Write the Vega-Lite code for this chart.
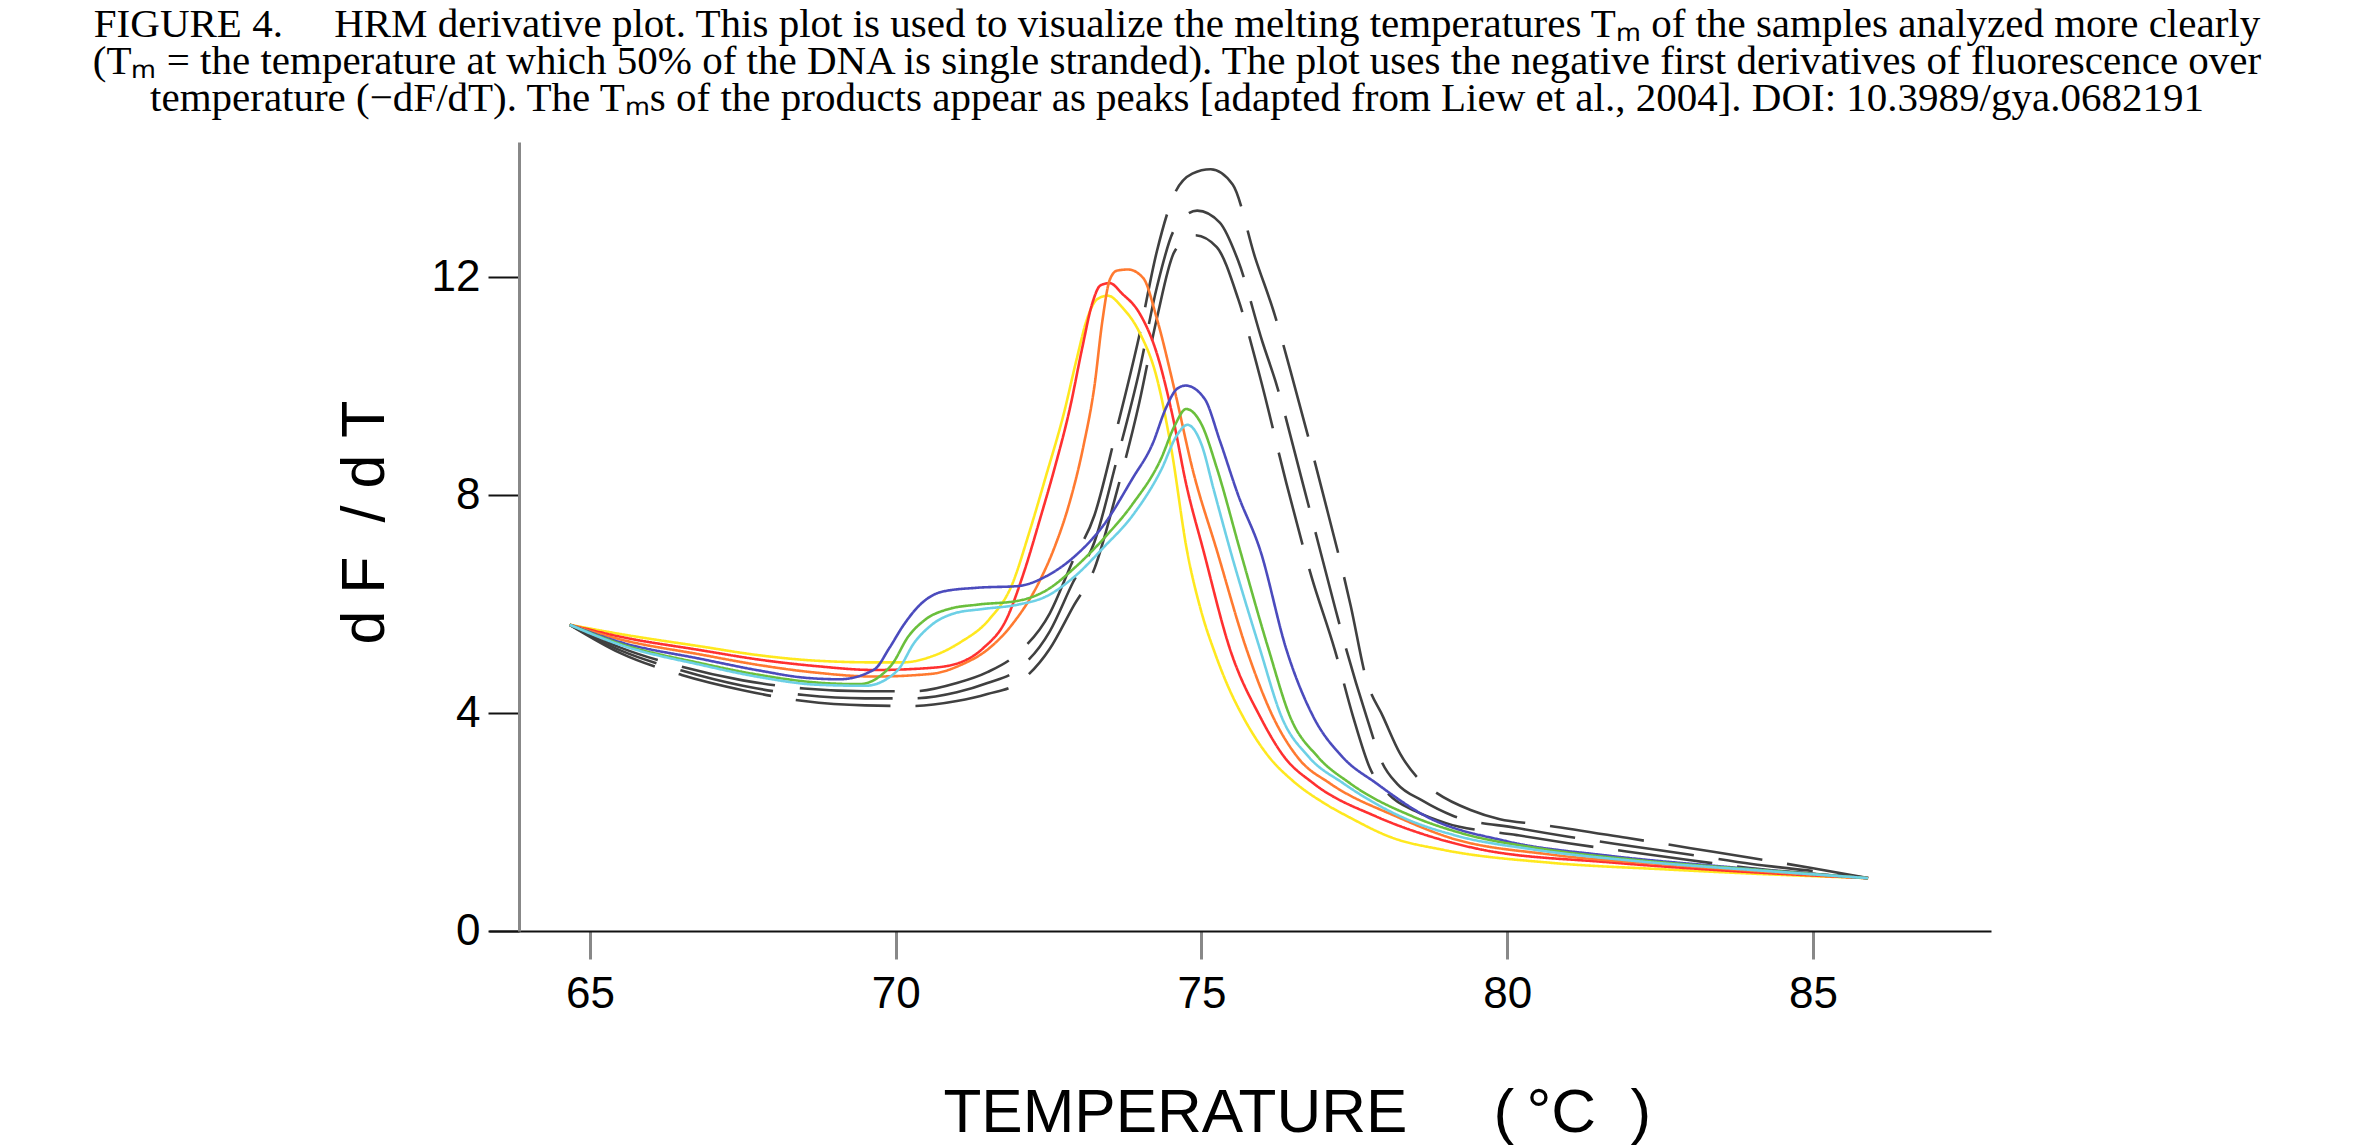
{
  "$schema": "https://vega.github.io/schema/vega-lite/v6.json",
  "autosize": {"type": "none"},
  "width": 1502,
  "height": 789,
  "padding": {"left": 489, "top": 142, "right": 366, "bottom": 215},
  "background": "#ffffff",
  "title": {
    "text": [
      "FIGURE 4.\u2003\u00a0HRM derivative plot. This plot is used to visualize the melting temperatures T\u2098 of the samples analyzed more clearly",
      "(T\u2098 = the temperature at which 50% of the DNA is single stranded). The plot uses the negative first derivatives of fluorescence over",
      "temperature (\u2212dF/dT). The T\u2098s of the products appear as peaks [adapted from Liew et al., 2004]. DOI: 10.3989/gya.0682191"
    ],
    "font": "Liberation Serif",
    "fontSize": 41,
    "fontWeight": "normal",
    "color": "#000000",
    "lineHeight": 37,
    "anchor": "middle",
    "frame": "group",
    "dx": -63,
    "offset": 22
  },
  "data": {
    "values": [
      {"s": "K1", "t": 64.67, "v": 5.62}, {"s": "K1", "t": 65.5, "v": 5.2}, {"s": "K1", "t": 66.5, "v": 4.85},
      {"s": "K1", "t": 67.5, "v": 4.6}, {"s": "K1", "t": 68.5, "v": 4.45}, {"s": "K1", "t": 69.5, "v": 4.4},
      {"s": "K1", "t": 70.3, "v": 4.4}, {"s": "K1", "t": 71.0, "v": 4.55}, {"s": "K1", "t": 71.5, "v": 4.75},
      {"s": "K1", "t": 72.0, "v": 5.1}, {"s": "K1", "t": 72.52, "v": 5.83}, {"s": "K1", "t": 72.9, "v": 6.8},
      {"s": "K1", "t": 73.25, "v": 7.63}, {"s": "K1", "t": 73.61, "v": 9.19}, {"s": "K1", "t": 73.98, "v": 10.91},
      {"s": "K1", "t": 74.27, "v": 12.47}, {"s": "K1", "t": 74.56, "v": 13.53}, {"s": "K1", "t": 74.85, "v": 13.9},
      {"s": "K1", "t": 75.15, "v": 13.98}, {"s": "K1", "t": 75.51, "v": 13.7}, {"s": "K1", "t": 75.88, "v": 12.35},
      {"s": "K1", "t": 76.2, "v": 11.3}, {"s": "K1", "t": 76.46, "v": 10.26}, {"s": "K1", "t": 76.97, "v": 8.1},
      {"s": "K1", "t": 77.44, "v": 5.97}, {"s": "K1", "t": 77.7, "v": 4.6}, {"s": "K1", "t": 77.97, "v": 3.93},
      {"s": "K1", "t": 78.25, "v": 3.25}, {"s": "K1", "t": 78.52, "v": 2.83}, {"s": "K1", "t": 78.85, "v": 2.53},
      {"s": "K1", "t": 79.4, "v": 2.22}, {"s": "K1", "t": 79.88, "v": 2.05}, {"s": "K1", "t": 80.5, "v": 1.96},
      {"s": "K1", "t": 81.95, "v": 1.71}, {"s": "K1", "t": 83.0, "v": 1.52}, {"s": "K1", "t": 84.0, "v": 1.34},
      {"s": "K1", "t": 85.0, "v": 1.15}, {"s": "K1", "t": 85.9, "v": 0.97},

      {"s": "K2", "t": 64.67, "v": 5.62}, {"s": "K2", "t": 65.5, "v": 5.15}, {"s": "K2", "t": 66.5, "v": 4.78},
      {"s": "K2", "t": 67.5, "v": 4.5}, {"s": "K2", "t": 68.5, "v": 4.33}, {"s": "K2", "t": 69.5, "v": 4.27},
      {"s": "K2", "t": 70.3, "v": 4.27}, {"s": "K2", "t": 71.0, "v": 4.38}, {"s": "K2", "t": 71.5, "v": 4.55},
      {"s": "K2", "t": 72.0, "v": 4.8}, {"s": "K2", "t": 72.52, "v": 5.5}, {"s": "K2", "t": 72.9, "v": 6.4},
      {"s": "K2", "t": 73.25, "v": 7.14}, {"s": "K2", "t": 73.61, "v": 8.62}, {"s": "K2", "t": 73.98, "v": 10.26},
      {"s": "K2", "t": 74.27, "v": 11.81}, {"s": "K2", "t": 74.56, "v": 12.88}, {"s": "K2", "t": 74.93, "v": 13.22},
      {"s": "K2", "t": 75.3, "v": 13.0}, {"s": "K2", "t": 75.6, "v": 12.3}, {"s": "K2", "t": 76.0, "v": 10.8},
      {"s": "K2", "t": 76.21, "v": 10.09}, {"s": "K2", "t": 76.66, "v": 8.2}, {"s": "K2", "t": 77.19, "v": 5.91},
      {"s": "K2", "t": 77.37, "v": 5.16}, {"s": "K2", "t": 77.7, "v": 3.93}, {"s": "K2", "t": 77.95, "v": 3.1},
      {"s": "K2", "t": 78.2, "v": 2.7}, {"s": "K2", "t": 78.6, "v": 2.4}, {"s": "K2", "t": 79.1, "v": 2.12},
      {"s": "K2", "t": 80.16, "v": 1.89}, {"s": "K2", "t": 81.0, "v": 1.73}, {"s": "K2", "t": 81.95, "v": 1.57},
      {"s": "K2", "t": 83.0, "v": 1.4}, {"s": "K2", "t": 84.0, "v": 1.23}, {"s": "K2", "t": 85.0, "v": 1.1},
      {"s": "K2", "t": 85.9, "v": 0.97},

      {"s": "K3", "t": 64.67, "v": 5.62}, {"s": "K3", "t": 65.5, "v": 5.1}, {"s": "K3", "t": 66.5, "v": 4.7},
      {"s": "K3", "t": 67.5, "v": 4.42}, {"s": "K3", "t": 68.5, "v": 4.22}, {"s": "K3", "t": 69.5, "v": 4.14},
      {"s": "K3", "t": 70.3, "v": 4.13}, {"s": "K3", "t": 71.0, "v": 4.22}, {"s": "K3", "t": 71.5, "v": 4.35},
      {"s": "K3", "t": 72.0, "v": 4.55}, {"s": "K3", "t": 72.52, "v": 5.18}, {"s": "K3", "t": 72.9, "v": 5.95},
      {"s": "K3", "t": 73.25, "v": 6.65}, {"s": "K3", "t": 73.61, "v": 8.04}, {"s": "K3", "t": 73.98, "v": 9.68},
      {"s": "K3", "t": 74.27, "v": 11.24}, {"s": "K3", "t": 74.56, "v": 12.47}, {"s": "K3", "t": 74.89, "v": 12.77},
      {"s": "K3", "t": 75.25, "v": 12.55}, {"s": "K3", "t": 75.6, "v": 11.6}, {"s": "K3", "t": 75.95, "v": 10.2},
      {"s": "K3", "t": 76.39, "v": 8.21}, {"s": "K3", "t": 76.8, "v": 6.5}, {"s": "K3", "t": 77.18, "v": 5.16},
      {"s": "K3", "t": 77.48, "v": 3.93}, {"s": "K3", "t": 77.75, "v": 3.0}, {"s": "K3", "t": 78.07, "v": 2.5},
      {"s": "K3", "t": 78.5, "v": 2.2}, {"s": "K3", "t": 79.0, "v": 1.98}, {"s": "K3", "t": 80.16, "v": 1.76},
      {"s": "K3", "t": 81.0, "v": 1.61}, {"s": "K3", "t": 81.95, "v": 1.46}, {"s": "K3", "t": 83.0, "v": 1.3},
      {"s": "K3", "t": 84.0, "v": 1.15}, {"s": "K3", "t": 85.0, "v": 1.05}, {"s": "K3", "t": 85.9, "v": 0.97},

      {"s": "yellow", "t": 64.67, "v": 5.62}, {"s": "yellow", "t": 65.5, "v": 5.45}, {"s": "yellow", "t": 66.83, "v": 5.22},
      {"s": "yellow", "t": 67.77, "v": 5.06}, {"s": "yellow", "t": 68.71, "v": 4.96}, {"s": "yellow", "t": 69.65, "v": 4.93},
      {"s": "yellow", "t": 70.12, "v": 4.93}, {"s": "yellow", "t": 70.59, "v": 5.04}, {"s": "yellow", "t": 71.06, "v": 5.3},
      {"s": "yellow", "t": 71.53, "v": 5.72}, {"s": "yellow", "t": 71.9, "v": 6.35}, {"s": "yellow", "t": 72.18, "v": 7.3},
      {"s": "yellow", "t": 72.46, "v": 8.36}, {"s": "yellow", "t": 72.75, "v": 9.5}, {"s": "yellow", "t": 72.96, "v": 10.5},
      {"s": "yellow", "t": 73.12, "v": 11.2}, {"s": "yellow", "t": 73.3, "v": 11.6}, {"s": "yellow", "t": 73.47, "v": 11.66},
      {"s": "yellow", "t": 73.7, "v": 11.45}, {"s": "yellow", "t": 73.98, "v": 11.0}, {"s": "yellow", "t": 74.27, "v": 10.15},
      {"s": "yellow", "t": 74.51, "v": 8.83}, {"s": "yellow", "t": 74.76, "v": 7.0}, {"s": "yellow", "t": 75.0, "v": 5.85},
      {"s": "yellow", "t": 75.22, "v": 5.1}, {"s": "yellow", "t": 75.45, "v": 4.45}, {"s": "yellow", "t": 75.68, "v": 3.93},
      {"s": "yellow", "t": 76.1, "v": 3.2}, {"s": "yellow", "t": 76.5, "v": 2.75}, {"s": "yellow", "t": 77.0, "v": 2.35},
      {"s": "yellow", "t": 77.43, "v": 2.08}, {"s": "yellow", "t": 78.1, "v": 1.72}, {"s": "yellow", "t": 78.95, "v": 1.49},
      {"s": "yellow", "t": 80.73, "v": 1.25}, {"s": "yellow", "t": 82.6, "v": 1.13}, {"s": "yellow", "t": 84.48, "v": 1.03},
      {"s": "yellow", "t": 85.9, "v": 0.97},

      {"s": "red", "t": 64.67, "v": 5.62}, {"s": "red", "t": 65.5, "v": 5.4}, {"s": "red", "t": 66.83, "v": 5.15},
      {"s": "red", "t": 67.77, "v": 4.98}, {"s": "red", "t": 68.71, "v": 4.86}, {"s": "red", "t": 69.65, "v": 4.79},
      {"s": "red", "t": 70.59, "v": 4.83}, {"s": "red", "t": 71.06, "v": 4.93}, {"s": "red", "t": 71.43, "v": 5.19},
      {"s": "red", "t": 71.81, "v": 5.72}, {"s": "red", "t": 72.09, "v": 6.56}, {"s": "red", "t": 72.37, "v": 7.6},
      {"s": "red", "t": 72.6, "v": 8.5}, {"s": "red", "t": 72.85, "v": 9.6}, {"s": "red", "t": 73.05, "v": 10.7},
      {"s": "red", "t": 73.21, "v": 11.5}, {"s": "red", "t": 73.35, "v": 11.85}, {"s": "red", "t": 73.5, "v": 11.89},
      {"s": "red", "t": 73.7, "v": 11.7}, {"s": "red", "t": 73.98, "v": 11.35}, {"s": "red", "t": 74.27, "v": 10.6},
      {"s": "red", "t": 74.53, "v": 9.44}, {"s": "red", "t": 74.75, "v": 8.2}, {"s": "red", "t": 75.03, "v": 6.99},
      {"s": "red", "t": 75.47, "v": 5.16}, {"s": "red", "t": 75.96, "v": 3.93}, {"s": "red", "t": 76.35, "v": 3.2},
      {"s": "red", "t": 76.83, "v": 2.71}, {"s": "red", "t": 77.86, "v": 2.1}, {"s": "red", "t": 78.7, "v": 1.75},
      {"s": "red", "t": 79.6, "v": 1.49}, {"s": "red", "t": 81.67, "v": 1.26}, {"s": "red", "t": 83.55, "v": 1.11},
      {"s": "red", "t": 85.9, "v": 0.97},

      {"s": "orange", "t": 64.67, "v": 5.62}, {"s": "orange", "t": 65.5, "v": 5.35}, {"s": "orange", "t": 66.83, "v": 5.07},
      {"s": "orange", "t": 67.77, "v": 4.88}, {"s": "orange", "t": 68.71, "v": 4.74}, {"s": "orange", "t": 69.65, "v": 4.67},
      {"s": "orange", "t": 70.59, "v": 4.72}, {"s": "orange", "t": 71.06, "v": 4.88}, {"s": "orange", "t": 71.53, "v": 5.19},
      {"s": "orange", "t": 71.9, "v": 5.62}, {"s": "orange", "t": 72.37, "v": 6.46}, {"s": "orange", "t": 72.6, "v": 7.05},
      {"s": "orange", "t": 72.84, "v": 7.85}, {"s": "orange", "t": 73.07, "v": 8.9}, {"s": "orange", "t": 73.25, "v": 10.0},
      {"s": "orange", "t": 73.38, "v": 11.2}, {"s": "orange", "t": 73.5, "v": 11.95}, {"s": "orange", "t": 73.62, "v": 12.12},
      {"s": "orange", "t": 73.8, "v": 12.14}, {"s": "orange", "t": 74.05, "v": 11.98}, {"s": "orange", "t": 74.27, "v": 11.24},
      {"s": "orange", "t": 74.56, "v": 9.93}, {"s": "orange", "t": 74.86, "v": 8.45}, {"s": "orange", "t": 75.25, "v": 6.99},
      {"s": "orange", "t": 75.74, "v": 5.16}, {"s": "orange", "t": 76.17, "v": 3.93}, {"s": "orange", "t": 76.6, "v": 3.15},
      {"s": "orange", "t": 77.1, "v": 2.71}, {"s": "orange", "t": 78.19, "v": 2.1}, {"s": "orange", "t": 79.04, "v": 1.72},
      {"s": "orange", "t": 80.73, "v": 1.4}, {"s": "orange", "t": 82.61, "v": 1.22}, {"s": "orange", "t": 84.48, "v": 1.07},
      {"s": "orange", "t": 85.9, "v": 0.97},

      {"s": "blue", "t": 64.67, "v": 5.62}, {"s": "blue", "t": 65.5, "v": 5.3}, {"s": "blue", "t": 66.83, "v": 4.99},
      {"s": "blue", "t": 67.77, "v": 4.78}, {"s": "blue", "t": 68.5, "v": 4.65}, {"s": "blue", "t": 69.08, "v": 4.62},
      {"s": "blue", "t": 69.65, "v": 4.8}, {"s": "blue", "t": 69.9, "v": 5.2}, {"s": "blue", "t": 70.12, "v": 5.6},
      {"s": "blue", "t": 70.4, "v": 5.99}, {"s": "blue", "t": 70.77, "v": 6.23}, {"s": "blue", "t": 71.34, "v": 6.3},
      {"s": "blue", "t": 72.0, "v": 6.33}, {"s": "blue", "t": 72.46, "v": 6.51}, {"s": "blue", "t": 72.93, "v": 6.88},
      {"s": "blue", "t": 73.4, "v": 7.45}, {"s": "blue", "t": 73.87, "v": 8.3}, {"s": "blue", "t": 74.2, "v": 8.94},
      {"s": "blue", "t": 74.42, "v": 9.6}, {"s": "blue", "t": 74.6, "v": 9.95}, {"s": "blue", "t": 74.74, "v": 10.01},
      {"s": "blue", "t": 75.05, "v": 9.77}, {"s": "blue", "t": 75.3, "v": 9.0}, {"s": "blue", "t": 75.6, "v": 8.0},
      {"s": "blue", "t": 75.96, "v": 6.99}, {"s": "blue", "t": 76.39, "v": 5.16}, {"s": "blue", "t": 76.83, "v": 3.93},
      {"s": "blue", "t": 77.3, "v": 3.2}, {"s": "blue", "t": 77.86, "v": 2.71}, {"s": "blue", "t": 78.68, "v": 2.1},
      {"s": "blue", "t": 79.98, "v": 1.65}, {"s": "blue", "t": 81.67, "v": 1.38}, {"s": "blue", "t": 83.55, "v": 1.18},
      {"s": "blue", "t": 85.9, "v": 0.97},

      {"s": "green", "t": 64.67, "v": 5.62}, {"s": "green", "t": 65.5, "v": 5.27}, {"s": "green", "t": 66.83, "v": 4.91},
      {"s": "green", "t": 67.77, "v": 4.7}, {"s": "green", "t": 68.71, "v": 4.56}, {"s": "green", "t": 69.4, "v": 4.53},
      {"s": "green", "t": 69.93, "v": 4.88}, {"s": "green", "t": 70.21, "v": 5.41}, {"s": "green", "t": 70.49, "v": 5.72},
      {"s": "green", "t": 70.87, "v": 5.91}, {"s": "green", "t": 71.34, "v": 5.99}, {"s": "green", "t": 72.0, "v": 6.06},
      {"s": "green", "t": 72.46, "v": 6.25}, {"s": "green", "t": 72.93, "v": 6.67}, {"s": "green", "t": 73.4, "v": 7.2},
      {"s": "green", "t": 73.87, "v": 7.83}, {"s": "green", "t": 74.34, "v": 8.67}, {"s": "green", "t": 74.56, "v": 9.27},
      {"s": "green", "t": 74.75, "v": 9.58}, {"s": "green", "t": 75.0, "v": 9.3}, {"s": "green", "t": 75.25, "v": 8.5},
      {"s": "green", "t": 75.63, "v": 6.99}, {"s": "green", "t": 76.1, "v": 5.16}, {"s": "green", "t": 76.45, "v": 3.93},
      {"s": "green", "t": 76.9, "v": 3.2}, {"s": "green", "t": 77.43, "v": 2.71}, {"s": "green", "t": 78.46, "v": 2.1},
      {"s": "green", "t": 79.3, "v": 1.78}, {"s": "green", "t": 80.5, "v": 1.52}, {"s": "green", "t": 82.14, "v": 1.3},
      {"s": "green", "t": 84.01, "v": 1.13}, {"s": "green", "t": 85.9, "v": 0.97},

      {"s": "cyan", "t": 64.67, "v": 5.62}, {"s": "cyan", "t": 65.5, "v": 5.25}, {"s": "cyan", "t": 66.83, "v": 4.88},
      {"s": "cyan", "t": 67.77, "v": 4.66}, {"s": "cyan", "t": 68.71, "v": 4.52}, {"s": "cyan", "t": 69.5, "v": 4.5},
      {"s": "cyan", "t": 70.02, "v": 4.77}, {"s": "cyan", "t": 70.31, "v": 5.3}, {"s": "cyan", "t": 70.59, "v": 5.62},
      {"s": "cyan", "t": 70.96, "v": 5.83}, {"s": "cyan", "t": 71.43, "v": 5.91}, {"s": "cyan", "t": 72.0, "v": 5.99},
      {"s": "cyan", "t": 72.46, "v": 6.14}, {"s": "cyan", "t": 72.93, "v": 6.51}, {"s": "cyan", "t": 73.4, "v": 7.04},
      {"s": "cyan", "t": 73.87, "v": 7.62}, {"s": "cyan", "t": 74.34, "v": 8.46}, {"s": "cyan", "t": 74.6, "v": 9.1},
      {"s": "cyan", "t": 74.77, "v": 9.29}, {"s": "cyan", "t": 75.0, "v": 8.93}, {"s": "cyan", "t": 75.2, "v": 8.1},
      {"s": "cyan", "t": 75.47, "v": 6.99}, {"s": "cyan", "t": 75.96, "v": 5.16}, {"s": "cyan", "t": 76.31, "v": 3.93},
      {"s": "cyan", "t": 76.75, "v": 3.2}, {"s": "cyan", "t": 77.32, "v": 2.71}, {"s": "cyan", "t": 78.3, "v": 2.08},
      {"s": "cyan", "t": 79.2, "v": 1.74}, {"s": "cyan", "t": 80.4, "v": 1.5}, {"s": "cyan", "t": 82.14, "v": 1.28},
      {"s": "cyan", "t": 84.01, "v": 1.12}, {"s": "cyan", "t": 85.9, "v": 0.97}
    ]
  },
  "mark": {"type": "line", "interpolate": "monotone", "strokeWidth": 2.6},
  "encoding": {
    "x": {
      "field": "t",
      "type": "quantitative",
      "scale": {"domain": [63.35, 87.91], "nice": false, "zero": false},
      "axis": {
        "values": [65, 70, 75, 80, 85],
        "grid": false,
        "domainColor": "#111111",
        "domainWidth": 2,
        "tickColor": "#888888",
        "tickWidth": 3,
        "tickSize": 28,
        "labelFont": "Liberation Sans",
        "labelFontSize": 44,
        "labelColor": "#000000",
        "labelPadding": 13,
        "title": "TEMPERATURE\u00a0\u00a0\u00a0\u00a0\u00a0(\u2009\u00b0C\u00a0\u00a0)",
        "titleFont": "Liberation Sans",
        "titleFontSize": 62,
        "titleFontWeight": "normal",
        "titleColor": "#000000",
        "titleAlign": "left",
        "titleBaseline": "alphabetic",
        "titleX": 454,
        "titleY": 200
      }
    },
    "y": {
      "field": "v",
      "type": "quantitative",
      "scale": {"domain": [0, 14.48], "nice": false},
      "axis": {
        "values": [0, 4, 8, 12],
        "grid": false,
        "offset": -30,
        "domainColor": "#888888",
        "domainWidth": 3,
        "tickColor": "#111111",
        "tickWidth": 2,
        "tickSize": 31,
        "labelFont": "Liberation Sans",
        "labelFontSize": 44,
        "labelColor": "#000000",
        "labelPadding": 8,
        "title": "d\u00a0F\u00a0\u00a0/\u00a0d\u00a0T",
        "titleFont": "Liberation Sans",
        "titleFontSize": 61,
        "titleFontWeight": "normal",
        "titleColor": "#000000",
        "titleAngle": 270,
        "titleAlign": "center",
        "titleBaseline": "alphabetic",
        "titleX": -136,
        "titleY": 380
      }
    },
    "color": {
      "field": "s",
      "type": "nominal",
      "scale": {
        "domain": ["K1", "K2", "K3", "yellow", "red", "orange", "blue", "green", "cyan"],
        "range": ["#404040", "#404040", "#404040", "#ffe81f", "#ff3030", "#ff7a30", "#4b4bbd", "#6abf3c", "#6dd0e6"]
      },
      "legend": null
    },
    "strokeDash": {
      "field": "s",
      "type": "nominal",
      "scale": {
        "domain": ["K1", "K2", "K3", "yellow", "red", "orange", "blue", "green", "cyan"],
        "range": [[95, 25], [95, 25], [95, 25], [1, 0], [1, 0], [1, 0], [1, 0], [1, 0], [1, 0]]
      },
      "legend": null
    }
  },
  "config": {
    "view": {"stroke": null}
  }
}
